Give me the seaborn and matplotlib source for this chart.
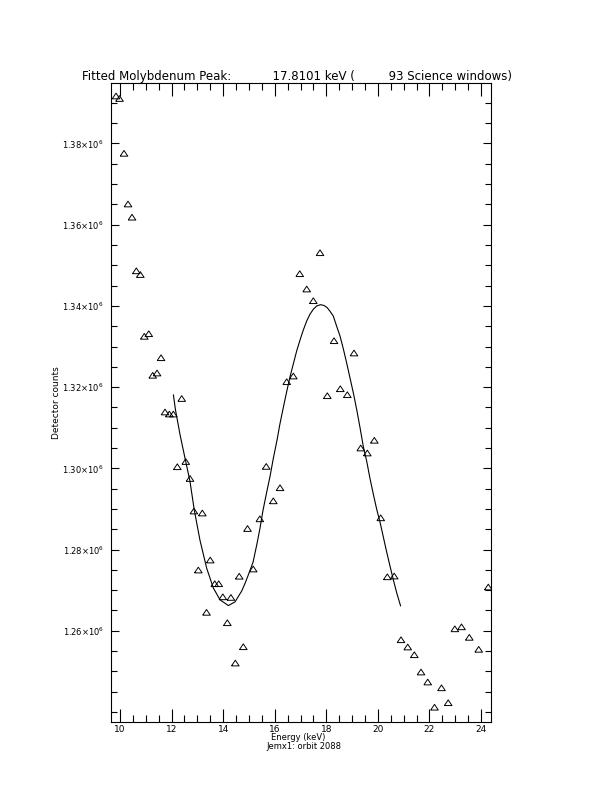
import matplotlib
matplotlib.use("Agg")
import matplotlib.pyplot as plt
from matplotlib.ticker import MultipleLocator, FixedLocator, FixedFormatter
import pandas as pd
import seaborn as sns

# measured points (keV, counts)
energy = [9.845, 9.981, 10.155, 10.310, 10.465, 10.632, 10.787, 10.942, 11.113, 11.268,
          11.435, 11.590, 11.745, 11.912, 12.067, 12.222, 12.392, 12.548, 12.714, 12.865,
          13.036, 13.191, 13.354, 13.498, 13.672, 13.827, 13.986, 14.161, 14.300, 14.471,
          14.622, 14.781, 14.944, 15.165, 15.421, 15.669, 15.944, 16.204, 16.464, 16.720,
          16.968, 17.239, 17.495, 17.755, 18.038, 18.298, 18.542, 18.814, 19.073, 19.333,
          19.589, 19.861, 20.109, 20.365, 20.632, 20.896, 21.156, 21.412, 21.671, 21.931,
          22.195, 22.466, 22.726, 22.982, 23.242, 23.544, 23.909, 24.281]
counts = [1.39170e6, 1.39108e6, 1.37758e6, 1.36510e6, 1.36185e6, 1.34864e6, 1.34773e6, 1.33251e6, 1.33315e6, 1.32291e6,
          1.32347e6, 1.32724e6, 1.31387e6, 1.31337e6, 1.31337e6, 1.30039e6, 1.31719e6, 1.30167e6, 1.29749e6, 1.28948e6,
          1.27495e6, 1.28899e6, 1.26453e6, 1.27741e6, 1.27158e6, 1.27158e6, 1.26835e6, 1.26197e6, 1.26820e6, 1.25204e6,
          1.27342e6, 1.25606e6, 1.28517e6, 1.27520e6, 1.28756e6, 1.30047e6, 1.29199e6, 1.29522e6, 1.32133e6, 1.32273e6,
          1.34793e6, 1.34416e6, 1.34128e6, 1.35310e6, 1.31788e6, 1.33143e6, 1.31960e6, 1.31813e6, 1.32840e6, 1.30500e6,
          1.30377e6, 1.30690e6, 1.28781e6, 1.27328e6, 1.27347e6, 1.25778e6, 1.25599e6, 1.25409e6, 1.24983e6, 1.24737e6,
          1.24116e6, 1.24594e6, 1.24227e6, 1.26047e6, 1.26096e6, 1.25837e6, 1.25542e6, 1.27076e6]

# fitted curve
fit_energy = [12.07, 12.15, 12.33, 12.55, 12.71, 12.88, 13.10, 13.36, 13.62, 13.88,
              14.20, 14.46, 14.72, 14.85, 14.96, 15.16, 15.31, 15.43, 15.54, 15.69,
              15.82, 15.94, 16.09, 16.20, 16.33, 16.46, 16.59, 16.72, 16.85, 16.98,
              17.11, 17.24, 17.37, 17.50, 17.63, 17.78, 17.91, 18.03, 18.14, 18.27,
              18.40, 18.53, 18.66, 18.79, 18.92, 19.05, 19.18, 19.31, 19.43, 19.57,
              19.69, 19.82, 19.95, 20.08, 20.21, 20.34, 20.47, 20.60, 20.73, 20.88]
fit_counts = [1.3181e6, 1.3144e6, 1.3082e6, 1.3016e6, 1.2969e6, 1.2897e6, 1.2823e6, 1.2754e6, 1.2705e6, 1.2676e6,
              1.2662e6, 1.2671e6, 1.2698e6, 1.2717e6, 1.2735e6, 1.2769e6, 1.2814e6, 1.2853e6, 1.2895e6, 1.2942e6,
              1.2981e6, 1.3023e6, 1.3070e6, 1.3109e6, 1.3149e6, 1.3188e6, 1.3225e6, 1.3257e6, 1.3289e6, 1.3316e6,
              1.3341e6, 1.3363e6, 1.3380e6, 1.3392e6, 1.3400e6, 1.3403e6, 1.3401e6, 1.3396e6, 1.3387e6, 1.3375e6,
              1.3350e6, 1.3326e6, 1.3294e6, 1.3259e6, 1.3222e6, 1.3185e6, 1.3144e6, 1.3099e6, 1.3055e6, 1.3016e6,
              1.2976e6, 1.2937e6, 1.2900e6, 1.2868e6, 1.2831e6, 1.2794e6, 1.2759e6, 1.2725e6, 1.2693e6, 1.2661e6]

x_ticks = [10, 12, 14, 16, 18, 20, 22, 24]
y_ticks = [1.26e6, 1.28e6, 1.30e6, 1.32e6, 1.34e6, 1.36e6, 1.38e6]
y_tick_labels = [r"1.26$\times$10$^{6}$", r"1.28$\times$10$^{6}$", r"1.30$\times$10$^{6}$",
                 r"1.32$\times$10$^{6}$", r"1.34$\times$10$^{6}$", r"1.36$\times$10$^{6}$",
                 r"1.38$\times$10$^{6}$"]

title = "Fitted Molybdenum Peak:" + " " * 11 + "17.8101 keV (" + " " * 9 + "93 Science windows)"

df = pd.DataFrame({"Energy": energy, "Counts": counts})
df_fit = pd.DataFrame({"Energy": fit_energy, "Counts": fit_counts})

sns.set_style("ticks")
plt.rcParams["font.family"] = ["DejaVu Sans"]
plt.rcParams.update({"text.color": "black", "axes.labelcolor": "black",
                     "xtick.color": "black", "ytick.color": "black",
                     "axes.edgecolor": "black"})

fig = plt.figure(figsize=(6.12, 7.92), dpi=100)
ax = fig.add_axes([0.1809, 0.0890, 0.6209, 0.8058])

tri = [(-1, -0.75), (1, -0.75), (0, 0.75), (-1, -0.75)]
sns.scatterplot(data=df, x="Energy", y="Counts", marker=tri, s=30,
                fc="none", ec="black", linewidth=0.7, ax=ax, zorder=3)
sns.lineplot(data=df_fit, x="Energy", y="Counts", color="black", lw=0.8,
             sort=False, estimator=None, ax=ax)

ax.set_xlim(9.639, 24.374)
ax.set_ylim(1.23764e6, 1.39482e6)

ax.xaxis.set_major_locator(FixedLocator(x_ticks))
ax.xaxis.set_minor_locator(MultipleLocator(0.5))
ax.yaxis.set_major_locator(FixedLocator(y_ticks))
ax.yaxis.set_major_formatter(FixedFormatter(y_tick_labels))
ax.yaxis.set_minor_locator(MultipleLocator(5000))

ax.tick_params(axis="x", which="major", direction="in", length=9.5, width=0.8,
               top=True, labelsize=6.5, pad=2.5)
ax.tick_params(axis="x", which="minor", direction="in", length=5, width=0.8, top=True)
ax.tick_params(axis="y", which="major", direction="in", length=6, width=0.8,
               right=True, labelsize=6, pad=5)
ax.tick_params(axis="y", which="minor", direction="in", length=4, width=0.8, right=True)

for sp in ax.spines.values():
    sp.set_linewidth(0.8)
    sp.set_color("black")

ax.set_xlabel("")
ax.set_ylabel("Detector counts", fontsize=6.5, labelpad=0.5)

fig.text(0.487, 0.0688, "Energy (keV)", fontsize=6, ha="center", va="center")
fig.text(0.497, 0.0570, "Jemx1: orbit 2088", fontsize=6, ha="center", va="center")
fig.text(0.486, 0.9034, title, fontsize=8.5, ha="center", va="center")

fig.savefig("out.png", dpi=100)
